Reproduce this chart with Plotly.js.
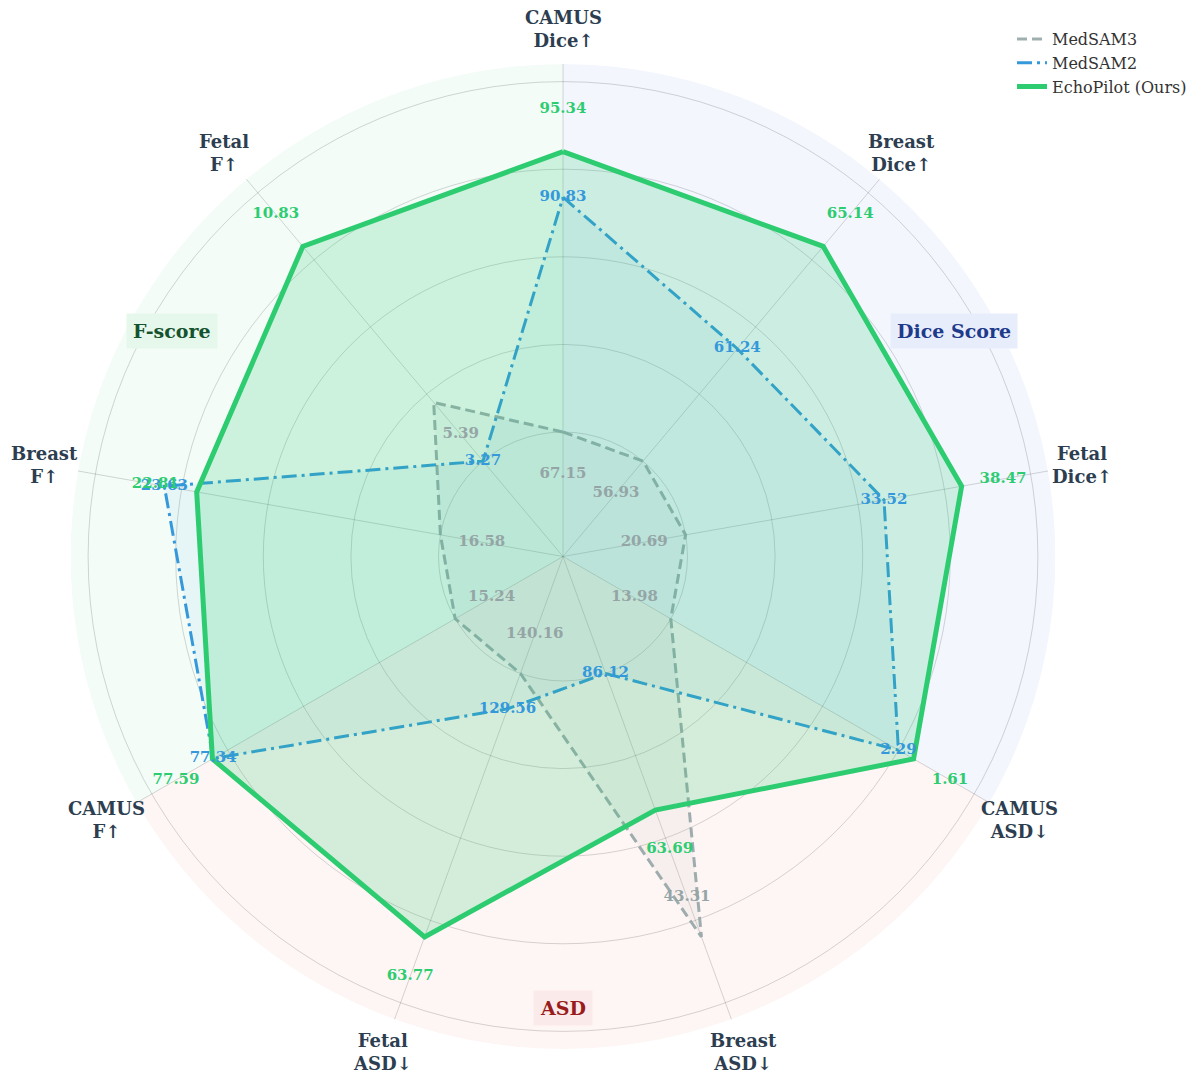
<!DOCTYPE html>
<html>
<head>
<meta charset="utf-8">
<script src="https://cdn.plot.ly/plotly-3.0.1.min.js"></script>
<style>
  html, body { margin: 0; padding: 0; background: #fff; }
  #chart { width: 1204px; height: 1082px; }
</style>
</head>
<body>
<div id="chart"></div>
<script>
// axes, clockwise from the top
const AXES = [
  "CAMUS<br>Dice↑", "Breast<br>Dice↑", "Fetal<br>Dice↑",
  "CAMUS<br>ASD↓", "Breast<br>ASD↓", "Fetal<br>ASD↓",
  "CAMUS<br>F↑", "Breast<br>F↑", "Fetal<br>F↑",
];
const SERIES = ["MedSAM3", "MedSAM2", "EchoPilot (Ours)"];

// raw metric values (labels)
const medsam3Vals = [67.15, 56.93, 20.69, 13.98, 43.31, 140.16, 15.24, 16.58, 5.39];
const medsam2Vals = [90.83, 61.24, 33.52, 2.29, 86.12, 129.56, 77.34, 23.63, 3.27];
const echoVals = [95.34, 65.14, 38.47, 1.61, 63.69, 63.77, 77.59, 22.81, 10.83];

// plotted (normalised) radii
const medsam3R = [0.20, 0.20, 0.20, 0.20, 0.84, 0.20, 0.20, 0.20, 0.375];
const medsam2R = [0.736, 0.535, 0.66, 0.80, 0.20, 0.286, 0.838, 0.84, 0.20];
const echoR = [0.84, 0.84, 0.84, 0.84, 0.532, 0.84, 0.84, 0.765, 0.84];

const GROUPS = ["Dice Score", "ASD", "F-score"];
const GRID = [0.2, 0.4, 0.6, 0.8, 1.0];

const W = 1204, H = 1082;
const CX = 563, CY = 556.5, RPX = 492.5;
const RMIN = -0.0842, RMAX = 1.0402;
const FONT = "DejaVu Serif";

const step = 360 / AXES.length;
const theta = AXES.map((_, i) => i * step);
const close = (a) => a.concat([a[0]]);

const colors = ["#95a5a6", "#3498db", "#2ecc71"];
const fills = ["rgba(149,165,166,0.08)", "rgba(52,152,219,0.07)", "rgba(46,204,113,0.20)"];
const dashes = ["10px,5px", "15px,5px,3px,5px", "solid"];
const widths = [3, 3, 5];
const radii = [medsam3R, medsam2R, echoR];
const vals = [medsam3Vals, medsam2Vals, echoVals];
const labelShift = [-0.096, 0, 0.096];

const groupBg = ["rgba(66,103,230,0.06)", "rgba(231,76,60,0.05)", "rgba(46,204,113,0.05)"];
const groupText = ["#1e3a8a", "#991b1b", "#14532d"];
const groupBox = ["#e8edfc", "#fbeaea", "#e6f7ec"];

// paper position of a point given its angle (deg, clockwise from top) and pixel radius
function place(deg, rpx) {
  const t = deg * Math.PI / 180;
  return { x: (CX + rpx * Math.sin(t)) / W, y: 1 - (CY - rpx * Math.cos(t)) / H };
}

const traces = [];

// coloured background sectors (120 deg each)
traces.push({
  type: "barpolar",
  theta: GROUPS.map((_, g) => g * 3 * step + 1.5 * step),
  r: GROUPS.map(() => RMAX - RMIN),
  base: RMIN,
  width: GROUPS.map(() => 3 * step),
  marker: { color: groupBg, line: { width: 0 } },
  showlegend: false,
  hoverinfo: "skip",
});

SERIES.forEach((name, k) => {
  traces.push({
    type: "scatterpolar",
    r: close(radii[k]),
    theta: close(theta),
    mode: "lines",
    fill: "toself",
    fillcolor: fills[k],
    line: { width: 0 },
    showlegend: false,
    hoverinfo: "skip",
  });
  traces.push({
    type: "scatterpolar",
    name: name,
    r: close(radii[k]),
    theta: close(theta),
    mode: "lines",
    line: { color: colors[k], width: widths[k], dash: dashes[k] },
    opacity: k === 0 ? 0.9 : 1,
  });
});

// value labels
SERIES.forEach((name, k) => {
  traces.push({
    type: "scatterpolar",
    r: radii[k].map((v) => v + labelShift[k]),
    theta: theta,
    mode: "text",
    text: vals[k].map((v) => v.toFixed(2)),
    textposition: "middle center",
    textfont: { family: FONT, size: 15, color: colors[k], weight: "bold" },
    cliponaxis: false,
    showlegend: false,
    hoverinfo: "skip",
  });
});

const annotations = [];

// axis names outside the circle
AXES.forEach((a, i) => {
  const p = place(theta[i], 527);
  annotations.push({
    text: a,
    xref: "paper", yref: "paper",
    x: p.x, y: p.y, xanchor: "center", yanchor: "middle",
    showarrow: false,
    font: { family: FONT, size: 18, color: "#2c3e50", weight: "bold" },
  });
});

// group labels
GROUPS.forEach((g, i) => {
  const p = place(i * 3 * step + 1.5 * step, 451);
  annotations.push({
    text: g,
    xref: "paper", yref: "paper",
    x: p.x, y: p.y, xanchor: "center", yanchor: "middle",
    showarrow: false,
    font: { family: FONT, size: 19, color: groupText[i], weight: "bold" },
    bgcolor: groupBox[i],
    borderpad: 6,
  });
});

const layout = {
  width: W,
  height: H,
  margin: { l: 0, r: 0, t: 0, b: 0 },
  paper_bgcolor: "#ffffff",
  showlegend: true,
  hovermode: false,
  legend: {
    x: 1 - 12 / W, xanchor: "right", y: 1 - 22 / H, yanchor: "top",
    font: { family: FONT, size: 16, color: "#333" },
    bgcolor: "rgba(0,0,0,0)",
  },
  polar: {
    domain: {
      x: [(CX - RPX) / W, (CX + RPX) / W],
      y: [1 - (CY + RPX) / H, 1 - (CY - RPX) / H],
    },
    bgcolor: "rgba(0,0,0,0)",
    bargap: 0,
    radialaxis: {
      range: [RMIN, RMAX],
      tickvals: GRID,
      showticklabels: false,
      ticks: "",
      showline: false,
      gridcolor: "rgba(0,0,0,0.16)",
      gridwidth: 1,
      layer: "below traces",
    },
    angularaxis: {
      rotation: 90,
      direction: "clockwise",
      tickvals: theta,
      showticklabels: false,
      ticks: "",
      showline: false,
      gridcolor: "rgba(0,0,0,0.16)",
      gridwidth: 1,
      layer: "below traces",
    },
  },
  annotations: annotations,
};

Plotly.newPlot("chart", traces, layout, { displayModeBar: false, staticPlot: true });
</script>
</body>
</html>
